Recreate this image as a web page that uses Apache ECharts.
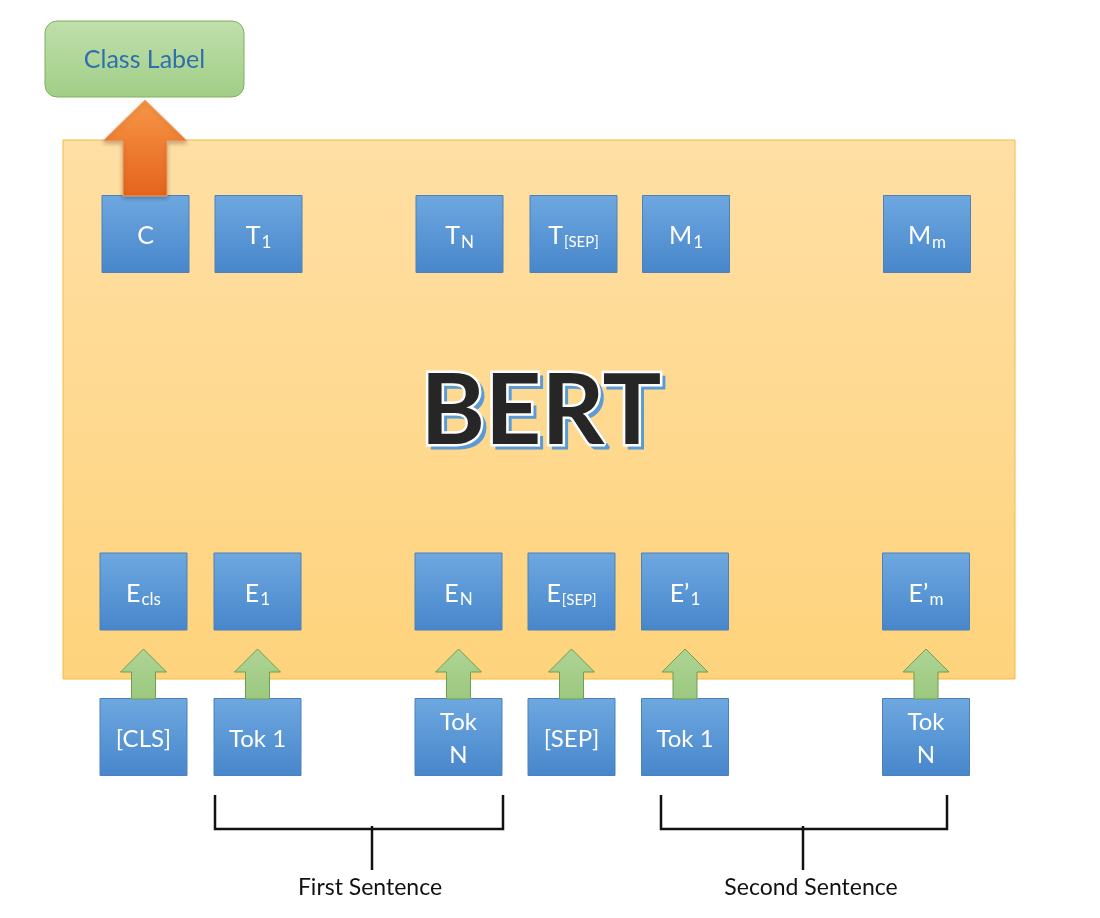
<!DOCTYPE html>
<html>
<head>
<meta charset="utf-8">
<script src="https://cdn.jsdelivr.net/npm/echarts@6/dist/echarts.min.js"></script>
<style>
  html, body { margin: 0; padding: 0; background: #fff; }
  #chart { width: 1100px; height: 918px; }
</style>
</head>
<body>
<div id="chart"></div>
<script>
// diagram content, in the same units as the hidden axes (0..1100 x 0..918)
var topMain = ['C', 'T', 'T', 'T', 'M', 'M']
var topSub = ['', '1', 'N', '[SEP]', '1', 'm']
var topX = [145.5, 258.5, 459.5, 573.5, 686, 927]

var embedMain = ['E', 'E', 'E', 'E', 'E\u2019', 'E\u2019']
var embedSub = ['cls', '1', 'N', '[SEP]', '1', 'm']
var embedX = [143.5, 257.5, 458.5, 571.5, 685, 926]

var tokenLabels = ['[CLS]', 'Tok 1', 'Tok\nN', '[SEP]', 'Tok 1', 'Tok\nN']
var tokenX = [143.5, 257.5, 458.5, 571.5, 685, 926]

var rowY = { top: 234, embed: 591.5, token: 737 }

var sentences = ['First Sentence', 'Second Sentence']
var sentenceSpan = [[215, 503], [661, 947]]
var sentenceStemX = [372, 803]
var sentenceX = [370, 811]

var bertPanel = [63, 140, 1015, 679]
var classBox = [45, 21, 244, 97]
var classArrow = [145, 100, 196]
var tokenArrowY = [649, 699]

var FONT = 'Lato, "Open Sans", sans-serif'
var BOX_W = 87
var BOX_H = 77

var chart = echarts.init(document.getElementById('chart'))

function grad (a, b) {
  return new echarts.graphic.LinearGradient(0, 0, 0, 1, [
    { offset: 0, color: a }, { offset: 1, color: b }
  ])
}

function pt (api, x, y) {
  return api.coord([x, y])
}

function boxSeries (xs, rowKey, mains, subs, plain) {
  return {
    type: 'custom',
    coordinateSystem: 'cartesian2d',
    data: xs.map(function (x) { return [x, rowY[rowKey]] }),
    renderItem: function (params, api) {
      var i = params.dataIndex
      var c = pt(api, api.value(0), api.value(1))
      var s = api.size([BOX_W, BOX_H])
      var w = Math.abs(s[0])
      var h = Math.abs(s[1])
      var text
      var rich = {
        m: { fontSize: 25, fontFamily: FONT, fill: '#fff' },
        s: { fontSize: 17, fontFamily: FONT, fill: '#fff', padding: [13, 0, 0, 1] },
        ss: { fontSize: 15, fontFamily: FONT, fill: '#fff', padding: [13, 0, 0, 1] }
      }
      if (plain) {
        text = plain[i]
      } else {
        var sub = subs[i]
        text = '{m|' + mains[i] + '}'
        if (sub) text += (sub.length > 3 ? '{ss|' : '{s|') + sub + '}'
      }
      return {
        type: 'group',
        children: [{
          type: 'rect',
          shape: { x: c[0] - w / 2, y: c[1] - h / 2, width: w, height: h },
          style: { fill: grad('#6EA8E0', '#4786CB'), stroke: '#4F80B8', lineWidth: 1 }
        }, {
          type: 'text',
          x: c[0],
          y: c[1] + 2,
          style: plain ? {
            text: text,
            fontSize: 24,
            fontFamily: FONT,
            fill: '#fff',
            lineHeight: 33,
            align: 'center',
            verticalAlign: 'middle'
          } : {
            text: text,
            rich: rich,
            align: 'center',
            verticalAlign: 'middle'
          }
        }]
      }
    }
  }
}

function arrowShape (c, tip, base, headH, headHalf, shaftHalf) {
  return [
    [c[0], tip],
    [c[0] + headHalf, tip + headH],
    [c[0] + shaftHalf, tip + headH],
    [c[0] + shaftHalf, base],
    [c[0] - shaftHalf, base],
    [c[0] - shaftHalf, tip + headH],
    [c[0] - headHalf, tip + headH]
  ]
}

var option = {
  animation: false,
  grid: { left: 0, right: 0, top: 0, bottom: 0 },
  xAxis: { type: 'value', min: 0, max: 1100, show: false },
  yAxis: { type: 'value', min: 0, max: 918, inverse: true, show: false },
  series: [{
    // BERT panel
    type: 'custom',
    data: [bertPanel],
    renderItem: function (params, api) {
      var a = pt(api, api.value(0), api.value(1))
      var b = pt(api, api.value(2), api.value(3))
      var cx = (a[0] + b[0]) / 2 + 2
      var cy = a[1] + (b[1] - a[1]) * 0.505
      var word = { text: 'BERT', fontSize: 98, fontWeight: 'bold', fontFamily: FONT, align: 'center', verticalAlign: 'middle' }
      return {
        type: 'group',
        children: [{
          type: 'rect',
          shape: { x: a[0], y: a[1], width: b[0] - a[0], height: b[1] - a[1] },
          style: { fill: grad('#FFDFA4', '#FED37C'), stroke: '#F3BA45', lineWidth: 1 }
        }, {
          type: 'text', x: cx + 4, y: cy + 4,
          style: Object.assign({}, word, { fill: '#5B9BD5', stroke: '#5B9BD5', lineWidth: 3 })
        }, {
          type: 'text', x: cx, y: cy,
          style: Object.assign({}, word, { fill: '#262626', stroke: '#fff', lineWidth: 5, strokeFirst: true })
        }]
      }
    }
  }, {
    // class label box
    type: 'custom',
    data: [classBox],
    renderItem: function (params, api) {
      var a = pt(api, api.value(0), api.value(1))
      var b = pt(api, api.value(2), api.value(3))
      return {
        type: 'group',
        children: [{
          type: 'rect',
          shape: { x: a[0], y: a[1], width: b[0] - a[0], height: b[1] - a[1], r: 12 },
          style: { fill: grad('#C0DFAC', '#A1CE86'), stroke: '#7FAF60', lineWidth: 1 }
        }, {
          type: 'text',
          x: (a[0] + b[0]) / 2,
          y: (a[1] + b[1]) / 2 + 1,
          style: { text: 'Class Label', fontSize: 25, fontFamily: FONT, fill: '#2E70AE', align: 'center', verticalAlign: 'middle' }
        }]
      }
    }
  },
  boxSeries(topX, 'top', topMain, topSub),
  boxSeries(embedX, 'embed', embedMain, embedSub),
  boxSeries(tokenX, 'token', null, null, tokenLabels),
  {
    // orange output arrow
    type: 'custom',
    data: [classArrow],
    z: 3,
    renderItem: function (params, api) {
      var c = pt(api, api.value(0), api.value(1))
      var base = pt(api, api.value(0), api.value(2))[1]
      return {
        type: 'polygon',
        shape: { points: arrowShape(c, c[1], base, 41, 42, 22) },
        style: {
          fill: grad('#F79647', '#E4641C'), stroke: '#F3A56C', lineWidth: 1,
          shadowColor: 'rgba(0,0,0,0.25)', shadowBlur: 4, shadowOffsetY: 2
        }
      }
    }
  }, {
    // green input arrows
    type: 'custom',
    data: tokenX.map(function (x) { return [x, tokenArrowY[0], tokenArrowY[1]] }),
    z: 3,
    renderItem: function (params, api) {
      var c = pt(api, api.value(0), api.value(1))
      var base = pt(api, api.value(0), api.value(2))[1]
      return {
        type: 'polygon',
        shape: { points: arrowShape(c, c[1], base, 23, 23, 12) },
        style: { fill: grad('#AFD496', '#9BC87E'), stroke: '#6F9F52', lineWidth: 1 }
      }
    }
  }, {
    // sentence brackets
    type: 'custom',
    data: sentenceSpan.map(function (s, i) {
      return [s[0], s[1], sentenceStemX[i], sentenceX[i]]
    }),
    renderItem: function (params, api) {
      var i = params.dataIndex
      var l = pt(api, api.value(0), 795)
      var r = pt(api, api.value(1), 829)
      var stemX = pt(api, api.value(2), 0)[0]
      var label = pt(api, api.value(3), 888)
      var stemBottom = pt(api, 0, 870)[1]
      var line = { stroke: '#111', lineWidth: 2.5, fill: null }
      return {
        type: 'group',
        children: [{
          type: 'polyline',
          shape: { points: [[l[0], l[1]], [l[0], r[1]], [r[0], r[1]], [r[0], l[1]]] },
          style: line
        }, {
          type: 'line',
          shape: { x1: stemX, y1: r[1] - 3, x2: stemX, y2: stemBottom },
          style: line
        }, {
          type: 'text',
          x: label[0],
          y: label[1],
          style: { text: sentences[i], fontSize: 23, fontFamily: FONT, fill: '#111', align: 'center', verticalAlign: 'middle' }
        }]
      }
    }
  }]
}

chart.setOption(option)
</script>
</body>
</html>
